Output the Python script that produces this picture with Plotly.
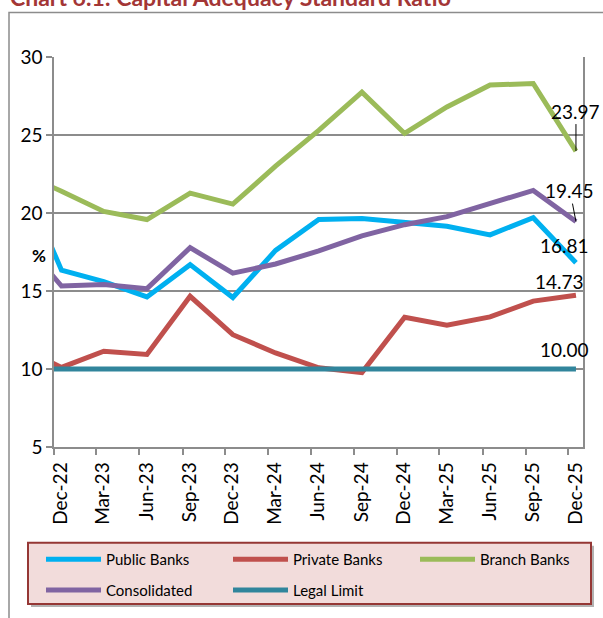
import pandas as pd
import plotly.graph_objects as go

# quarterly capital adequacy ratios (%), Sep-22 sits just left of the axis and is clipped
quarters = ["Sep-22", "Dec-22", "Mar-23", "Jun-23", "Sep-23", "Dec-23", "Mar-24",
            "Jun-24", "Sep-24", "Dec-24", "Mar-25", "Jun-25", "Sep-25", "Dec-25"]
public_banks = [22.7, 16.33, 15.6, 14.62, 16.69, 14.58, 17.6, 19.58, 19.64, 19.4, 19.15, 18.6, 19.7, 16.81]
private_banks = [11.4, 10.1, 11.14, 10.93, 14.66, 12.2, 11.03, 10.08, 9.77, 13.32, 12.81, 13.34, 14.35, 14.73]
branch_banks = [22.6, 21.4, 20.1, 19.58, 21.27, 20.57, 23.0, 25.3, 27.75, 25.1, 26.8, 28.2, 28.3, 23.97]
consolidated = [18.5, 15.32, 15.42, 15.15, 17.78, 16.14, 16.73, 17.57, 18.53, 19.25, 19.77, 20.6, 21.45, 19.45]
legal_limit = [10.0, 10.0, 10.0, 10.0, 10.0, 10.0, 10.0, 10.0, 10.0, 10.0, 10.0, 10.0, 10.0, 10.0]

# name, values, colour, legend row
series = [
    ("Public Banks", public_banks, "#00b0f0", "legend"),
    ("Private Banks", private_banks, "#c0504d", "legend"),
    ("Branch Banks", branch_banks, "#9bbb59", "legend"),
    ("Consolidated", consolidated, "#8064a2", "legend2"),
    ("Legal Limit", legal_limit, "#31859c", "legend2"),
]

W, H = 603, 618
ML, MR, MT, MB = 54, 20, 57, 166
PW, PH = W - ML - MR, H - MT - MB


def px_x(p):
    return (p - ML) / PW


def px_y(p):
    return (H - MB - p) / PH


# points sit a little after the quarter tick (date axis)
dates = pd.to_datetime(quarters, format="%b-%y") + pd.Timedelta(days=16)
tick_dates = pd.date_range("2022-12-01", "2025-12-01", freq="3MS")
x_range = ["2022-12-01", "2026-01-01"]

grey = "#8c8c8c"
font = "Lato, 'Open Sans', sans-serif"

fig = go.Figure()
for name, vals, color, leg in series:
    fig.add_trace(go.Scatter(x=dates, y=vals, name=name, mode="lines", legend=leg,
                             line=dict(color=color, width=5)))

# end-of-series value labels
label_pos = {
    "Public Banks": dict(xshift=-11, yshift=17),
    "Private Banks": dict(xshift=-16, yshift=14),
    "Legal Limit": dict(xshift=-11, yshift=20),
}
arrow_pos = {
    "Branch Banks": dict(ax=0, ay=-40),
    "Consolidated": dict(ax=-6, ay=-31),
}
for name, vals, color, leg in series:
    ann = dict(x=dates[-1], y=vals[-1], text=f"{vals[-1]:.2f}",
               font=dict(family=font, size=19, color="black"))
    if name in arrow_pos:
        ann.update(showarrow=True, arrowhead=0, arrowwidth=1, arrowcolor="black",
                   standoff=0, **arrow_pos[name])
    else:
        ann.update(showarrow=False, **label_pos[name])
    fig.add_annotation(**ann)

# chart title (cut off at the top of the page)
fig.add_annotation(text="<b>Chart 6.1: Capital Adequacy Standard Ratio</b>",
                   xref="paper", yref="paper", x=px_x(8), y=px_y(12),
                   xanchor="left", yanchor="bottom", showarrow=False,
                   font=dict(family=font, size=23, color="#a33636"))
fig.add_annotation(text="<b>%</b>", xref="paper", yref="paper",
                   x=px_x(30), y=px_y(258), showarrow=False,
                   font=dict(family=font, size=17, color="black"))

# outer chart frame, legend box + shadow
fig.add_shape(type="rect", xref="paper", yref="paper",
              x0=px_x(9), x1=px_x(640), y0=px_y(660), y1=px_y(12),
              line=dict(color=grey, width=1.5), fillcolor="rgba(0,0,0,0)", layer="below")
fig.add_shape(type="rect", xref="paper", yref="paper",
              x0=px_x(31), x1=px_x(594), y0=px_y(614), y1=px_y(552),
              line=dict(width=0), fillcolor="rgba(0,0,0,0.3)")
fig.add_shape(type="rect", xref="paper", yref="paper",
              x0=px_x(28), x1=px_x(591), y0=px_y(611), y1=px_y(549),
              line=dict(color="#953735", width=2), fillcolor="#f2dcdb")

legend_style = dict(orientation="h", xanchor="left", yanchor="middle",
                    bgcolor="rgba(0,0,0,0)", borderwidth=0, itemwidth=55,
                    entrywidth=117, font=dict(family=font, size=15, color="black"))

fig.update_layout(
    width=W, height=H,
    margin=dict(l=ML, r=MR, t=MT, b=MB),
    paper_bgcolor="white", plot_bgcolor="white",
    font=dict(family=font, color="black"),
    xaxis=dict(type="date", range=x_range, tickvals=tick_dates, tickformat="%b-%y",
               tickangle=-90, ticks="outside", ticklen=6, tickwidth=1.5, tickcolor=grey,
               ticklabelshift=7,
               showgrid=False, showline=True, linecolor=grey, linewidth=1.5,
               tickfont=dict(size=19)),
    xaxis2=dict(type="date", range=x_range, tickvals=tick_dates, overlaying="x",
                anchor="y", side="bottom", ticks="inside", ticklen=6, tickwidth=1.5,
                tickcolor=grey, showticklabels=False, showgrid=False, showline=False),
    yaxis=dict(range=[5, 30], dtick=5, ticks="outside", ticklen=6, tickwidth=1.5,
               tickcolor=grey, showgrid=True, gridcolor=grey, gridwidth=1.5,
               zeroline=False, showline=True, linecolor=grey, linewidth=1.5,
               mirror=True, tickfont=dict(size=19)),
    showlegend=True,
    legend=dict(x=px_x(41), y=px_y(566), **legend_style),
    legend2=dict(x=px_x(41), y=px_y(597), **legend_style),
)

fig.write_html("out.html", config={"displayModeBar": False},
               post_script="document.body.style.margin = '0';")
